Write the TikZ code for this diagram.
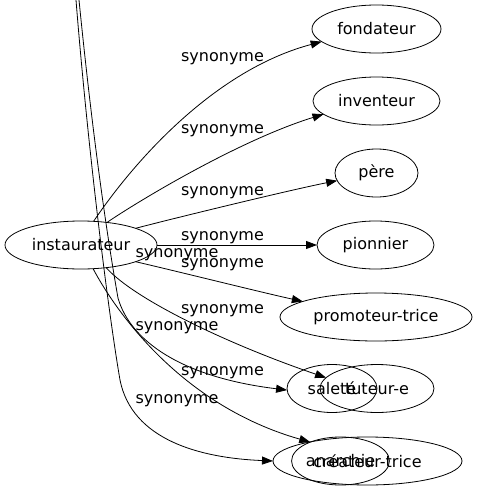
\documentclass[tikz,border=0pt]{standalone}
\usepackage{fontspec}
\setmainfont{DejaVu Sans}
\usetikzlibrary{shapes.geometric,arrows.meta}
\tikzset{
    word/.style = { ellipse,draw,line width=0.8pt,inner sep=0,outer sep=0,minimum height=48pt,font=\fontsize{16}{19}\selectfont, },
    syn/.style = { anchor=base,inner sep=0,font=\fontsize{16}{19}\selectfont, },
    arrow/.style = { -{Triangle[length=11pt,width=8pt]},line width=0.8pt, },
    plain/.style = { line width=0.8pt, },
}
\begin{document}
\begin{tikzpicture}[x=1pt,y=-1pt]

    \useasboundingbox (0,0) rectangle (477,491);

    \node [word,minimum width=152pt] (inst) at (81,245) {instaurateur};

    \node [word,minimum width=129pt] (fond) at (376.5,29) {fondateur};
    \node [word,minimum width=127pt] (inv) at (376.5,101) {inventeur};
    \node [word,minimum width=83pt] (pere) at (376.5,173) {père};
    \node [word,minimum width=117pt] (pion) at (375.5,245) {pionnier};
    \node [word,minimum width=192pt] (promo) at (376,317) {promoteur-trice};
    \node [word,minimum width=90pt] (salete) at (332,388.5) {saleté};
    \node [word,minimum width=114pt] (tuteur) at (377,388.5) {tuteur-e};
    \node [word,minimum width=97pt] (anar) at (340.5,461) {anarchie};
    \node [word,minimum width=189pt] (creat) at (367.5,461) {créateur-trice};

    \coordinate (top1) at (76,0);
    \coordinate (top2) at (79,0);

    \draw [arrow] (inst.62) .. controls (135,160) and (215,70) .. (fond.193);
    \draw [arrow] (inst.41.5) .. controls (140,200) and (240,140) .. (inv.194);
    \draw [arrow] (inst.17) .. controls (175,218) and (290,190) .. (pere.191);
    \draw [arrow] (inst.east) -- (pion.west);
    \draw [arrow] (inst.343) .. controls (180,272) and (260,292) .. (promo.168.4);
    \draw [arrow] (inst.318.5) .. controls (135,300) and (230,345) .. (tuteur.168.6);
    \draw [arrow] (inst.297) .. controls (115,310) and (180,405) .. (anar.148.8);

    \draw [plain] (top2) .. controls (92,130) and (106,230) .. (118,298) coordinate (p2);
    \draw [arrow] (p2) .. controls (130,340) and (180,377) .. (salete.182);
    \draw [plain] (top1) .. controls (88,150) and (108,310) .. (120,380) coordinate (p1);
    \draw [arrow] (p1) .. controls (132,440) and (200,458) .. (creat.west);

    \node [syn] (s1) at (222.5,61.5) {synonyme};
    \node [syn] (s2) at (222.5,133.5) {synonyme};
    \node [syn] (s3) at (222.5,195) {synonyme};
    \node [syn] (s4) at (222.5,240) {synonyme};
    \node [syn] (s5) at (222.5,267) {synonyme};
    \node [syn] (s6) at (222.5,313.5) {synonyme};
    \node [syn] (s7) at (222.5,375.5) {synonyme};
    \node [syn] (s8) at (177,257) {synonyme};
    \node [syn] (s9) at (177,330) {synonyme};
    \node [syn] (s10) at (177,403) {synonyme};

\end{tikzpicture}
\end{document}
